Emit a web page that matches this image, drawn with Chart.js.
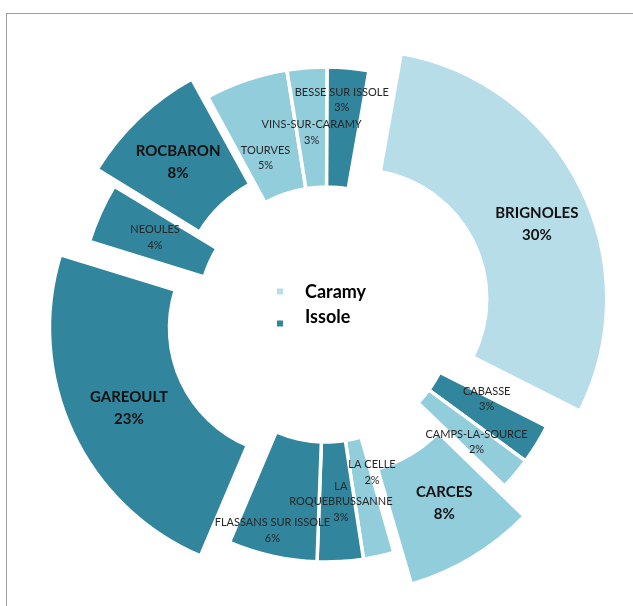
<!DOCTYPE html>
<html>
<head>
<meta charset="utf-8">
<script src="https://cdn.jsdelivr.net/npm/chart.js@4.4.1/dist/chart.umd.min.js"></script>
<style>
  body { margin: 0; background: #fff; }
  #wrap { position: relative; width: 633px; height: 606px; overflow: hidden; }
  #frame { position: absolute; left: 6px; top: 13px; width: 700px; height: 700px; border: 1.5px solid #9d9d9d; box-sizing: border-box; }
  canvas { position: absolute; left: 0; top: 0; }
</style>
</head>
<body>
<div id="wrap">
  <div id="frame"></div>
  <canvas id="chart" width="633" height="606"></canvas>
</div>
<script>
// Communes, clockwise from the top
const communes = ["BRIGNOLES", "CABASSE", "CAMPS-LA-SOURCE", "CARCES", "LA CELLE",
  "LA ROQUEBRUSSANNE", "FLASSANS SUR ISSOLE", "GAREOULT", "NEOULES", "ROCBARON",
  "TOURVES", "VINS-SUR-CARAMY", "BESSE SUR ISSOLE"];
// share of the total (%)
const shares = [29.7, 2.6, 2.1, 8.4, 2.0, 3.0, 5.8, 23.4, 3.9, 8.4, 5.4, 2.6, 2.7];
// which river basin each commune belongs to
const basinOf = ["Caramy", "Issole", "Caramy", "Caramy", "Caramy",
  "Issole", "Issole", "Issole", "Issole", "Issole",
  "Caramy", "Caramy", "Issole"];
const basins = ["Caramy", "Issole"];

// styles
const basinColors = { Caramy: "#b7dde8", Issole: "#31859c" };
const sliceColors = ["#b7dde8", "#31859c", "#92cddc", "#92cddc", "#92cddc",
  "#31859c", "#31859c", "#31859c", "#31859c", "#31859c",
  "#92cddc", "#92cddc", "#31859c"];
const explodePx = [37, 0, 0, 36, 0, 0, 0, 32, 0, 24, 0, 0, 0];
const labelNudge = [[10, 10], [1, -14], [7, 7], [3, -3], [6, -25], [4, 0], [-13, 33],
  [2, 1], [0, 0], [-2, 1], [0, 21], [0, 5], [-1, -28]];

const total = shares.reduce((a, b) => a + b, 0);

// chart.js moves an arc by offset/4 and also grows its radii, so convert
function arcOffset(i) {
  const c = Math.min(Math.PI, shares[i] / total * 2 * Math.PI);
  const fix = 1 - Math.sin(c);
  return 4 * explodePx[i] / (1 + fix);
}

const sliceLabels = {
  id: "sliceLabels",
  afterDatasetsDraw(chart) {
    const c = chart.ctx;
    const arcs = chart.getDatasetMeta(0).data;
    c.save();
    c.textAlign = "center";
    c.textBaseline = "middle";
    arcs.forEach((arc, i) => {
      const p = arc.getProps(["x", "y", "startAngle", "endAngle", "innerRadius", "outerRadius"], true);
      const mid = (p.startAngle + p.endAngle) / 2;
      const r = (p.innerRadius + p.outerRadius) / 2 + explodePx[i];
      const big = shares[i] >= 8;
      const lines = communes[i].replace("LA ROQUE", "LA\nROQUE").split("\n");
      lines.push(Math.round(shares[i] / total * 100) + "%");
      const lh = big ? 22 : 15.5;
      c.font = big ? "bold 15px Lato" : "11px Lato";
      c.fillStyle = big ? "#111111" : "#262626";
      const x = p.x + Math.cos(mid) * r + labelNudge[i][0];
      const y0 = p.y + Math.sin(mid) * r + labelNudge[i][1] - (lines.length - 1) * lh / 2;
      lines.forEach((t, k) => c.fillText(t, x, y0 + k * lh));
    });
    c.restore();
  }
};

const centerLegend = {
  id: "centerLegend",
  afterDraw(chart) {
    const c = chart.ctx;
    const a = chart.getDatasetMeta(0).data[0];
    c.save();
    c.font = "bold 18px Lato";
    c.textBaseline = "middle";
    basins.forEach((b, k) => {
      c.fillStyle = basinColors[b];
      c.fillRect(a.x - 49, a.y - 26 + k * 32, 6, 6);
      c.fillStyle = "#000";
      c.fillText(b, a.x - 21, a.y - 22 + k * 25);
    });
    c.restore();
  }
};

new Chart(document.getElementById("chart"), {
  type: "doughnut",
  data: {
    labels: communes,
    datasets: [{
      data: shares,
      backgroundColor: sliceColors,
      borderColor: "#ffffff",
      borderWidth: 3.5,
      offset: communes.map((_, i) => arcOffset(i)),
      hoverOffset: 0
    }]
  },
  options: {
    responsive: false,
    animation: false,
    events: [],
    rotation: 10,
    radius: 247.5,
    cutout: "51.5%",
    layout: { padding: { left: 19, top: 23 } },
    plugins: {
      legend: { display: false },
      tooltip: { enabled: false }
    }
  },
  plugins: [sliceLabels, centerLegend]
});
</script>
</body>
</html>
